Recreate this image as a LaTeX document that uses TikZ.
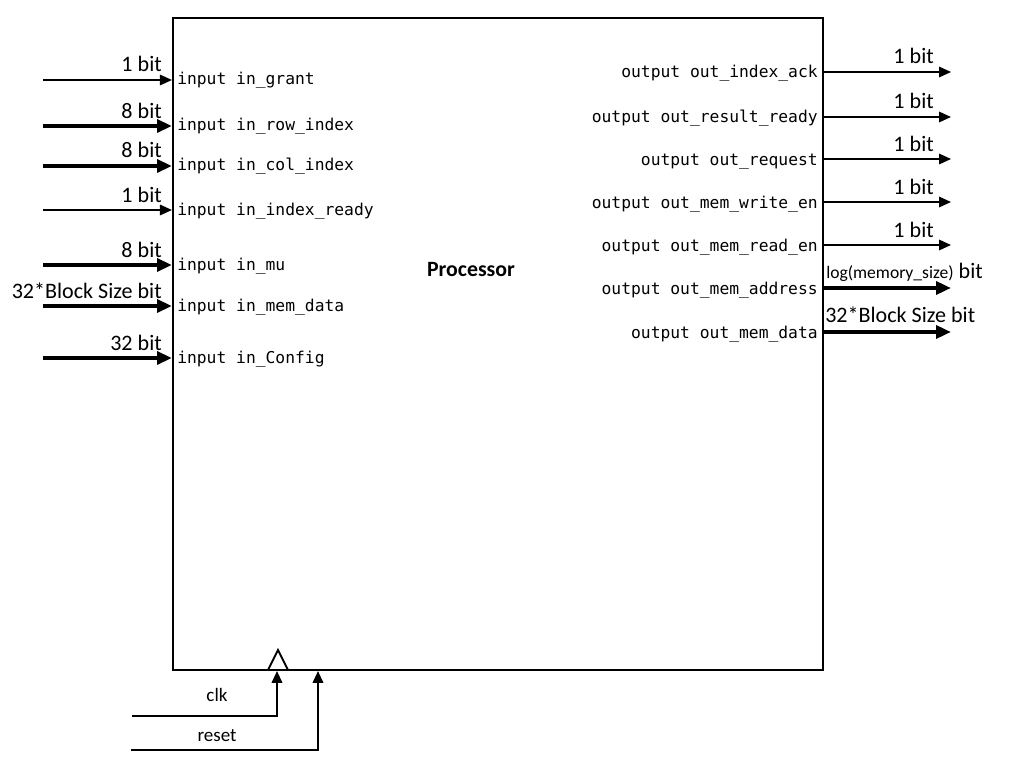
\documentclass[tikz,border=0pt]{standalone}
\usepackage{fontspec}
\setmainfont{Carlito}
\setmonofont{DejaVu Sans Mono}
\usetikzlibrary{arrows.meta}

\tikzset{
  sig/.style={-{Triangle[length=8.5pt,width=7.5pt]}, line width=1.1pt},
  bus/.style={-{Triangle[length=10.5pt,width=9pt]}, line width=2.8pt},
  port/.style={font=\fontsize{11.6}{13}\ttfamily, inner sep=0pt},
  bitlbl/.style={font=\fontsize{15.7}{17}\selectfont, inner sep=0pt},
}

\begin{document}
\begin{tikzpicture}[x=0.025cm, y=-0.025cm]
  \useasboundingbox (0,0) rectangle (1021,775);

  % Processor block
  \node[draw, line width=1.4pt, minimum width=16.25cm, minimum height=16.3cm, inner sep=0pt] (proc) at (498,344) {};
  \node[font=\fontsize{15.5}{17}\bfseries] (title) at (471,270) {Processor};

  % Inputs
  \foreach \i/\y/\s/\b/\n in {1/80/sig/1 bit/in\_grant, 2/126/bus/8 bit/in\_row\_index,
      3/166/bus/8 bit/in\_col\_index, 4/210/sig/1 bit/in\_index\_ready, 5/265/bus/8 bit/in\_mu,
      6/306/bus/32*Block Size bit/in\_mem\_data, 7/358/bus/32 bit/in\_Config} {
    \coordinate (in\i) at (43,\y);
    \draw[\s] (in\i) -- (in\i -| proc.west);
    \node[bitlbl, anchor=base east] (inb\i) at (162,\y-8) {\b};
    \node[port, anchor=base west] (inp\i) at (177,\y+5) {input \n};
  }

  % Outputs
  \foreach \i/\y/\n in {1/72/out\_index\_ack, 2/117/out\_result\_ready, 3/159/out\_request,
      4/202/out\_mem\_write\_en, 5/245/out\_mem\_read\_en} {
    \coordinate (out\i) at (951,\y);
    \draw[sig] (out\i -| proc.east) -- (out\i);
    \node[bitlbl, anchor=base east] (outb\i) at (934,\y-8) {1 bit};
    \node[port, anchor=base east] (outp\i) at (818,\y+6) {output \n};
  }
  \coordinate (out6) at (951,288);
  \draw[bus] (out6 -| proc.east) -- (out6);
  \node[bitlbl, anchor=base west] (outb6) at (826,278) {{\fontsize{12.5}{14}\selectfont log(memory\_size)} bit};
  \node[port, anchor=base east] (outp6) at (818,294) {output out\_mem\_address};
  \coordinate (out7) at (951,332);
  \draw[bus] (out7 -| proc.east) -- (out7);
  \node[bitlbl, anchor=base west] (outb7) at (825,322) {32*Block Size bit};
  \node[port, anchor=base east] (outp7) at (818,338) {output out\_mem\_data};

  % Clock and reset
  \draw[line width=1.4pt] (268,670) -- (278,650) -- (288,670);
  \coordinate (clk) at (132,716);
  \coordinate (clkin) at (277,671);
  \draw[sig, line width=1.4pt] (clk) -| (clkin);
  \node[font=\fontsize{13.5}{15}\selectfont] (clklbl) at (217,695) {clk};
  \coordinate (rst) at (131,750);
  \coordinate (rstin) at (318,671);
  \draw[sig, line width=1.4pt] (rst) -| (rstin);
  \node[font=\fontsize{13.5}{15}\selectfont] (rstlbl) at (217,736) {reset};
\end{tikzpicture}
\end{document}
